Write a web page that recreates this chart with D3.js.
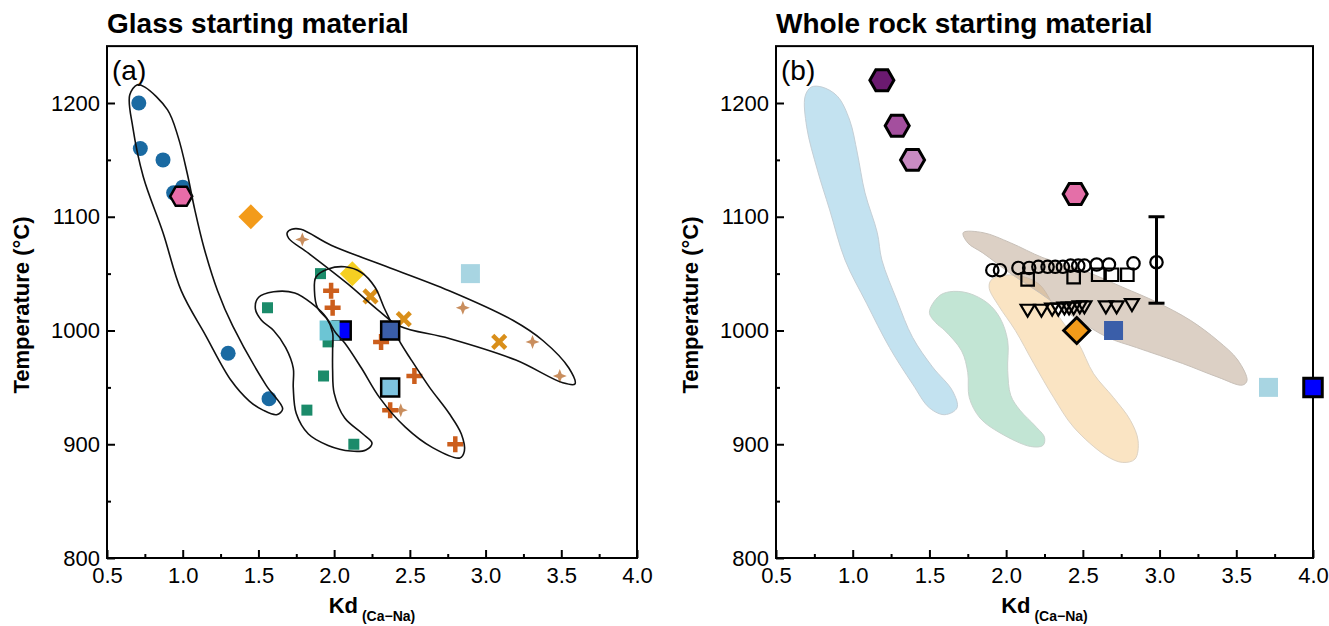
<!DOCTYPE html>
<html>
<head>
<meta charset="utf-8">
<script src="https://cdn.jsdelivr.net/npm/d3@7"></script>
<style>
  body { margin: 0; background: #fff; }
  text { font-family: "Liberation Sans", Arial, sans-serif; fill: #000; }
</style>
</head>
<body>
<svg id="chart" width="1329" height="626"></svg>
<script>
// ---- axis ticks ----
const xTicks = [0.5, 1.0, 1.5, 2.0, 2.5, 3.0, 3.5, 4.0];
const xMinor = [0.75, 1.25, 1.75, 2.25, 2.75, 3.25, 3.75];
const yTicks = [800, 900, 1000, 1100, 1200];
const yMinor = [850, 950, 1050, 1150];

// ---- panel (a): glass starting material, [Kd, T] ----
const blueCircles = [[0.71, 1200], [0.72, 1160], [0.87, 1150], [0.94, 1121], [1.00, 1126], [1.30, 980], [1.57, 940]];
const pinkHexA = [[0.99, 1118]];
const orangeDiamondA = [[1.45, 1100]];
const yellowDiamond = [[2.12, 1050]];
const greenSquares = [[1.91, 1050], [1.56, 1020], [1.96, 990], [1.93, 960], [1.82, 930], [2.13, 900]];
const orangePlus = [[1.98, 1035], [1.99, 1020], [2.31, 990], [2.53, 960], [2.37, 930], [2.80, 900]];
const goldCross = [[2.24, 1030], [2.46, 1010], [3.09, 990]];
const tanStars = [[1.79, 1080], [2.85, 1020], [3.31, 990], [3.49, 960], [2.44, 930]];
const blueSqA = [[2.05, 1000]];
const cyanSq = [[1.97, 1000]];
const darkBlueSq = [[2.37, 1000]];
const skySqOutlined = [[2.37, 950]];
const paleSqA = [[2.90, 1050]];

// envelopes drawn around the glass data
const envelope1 = [[0.70,1216],[0.75,1214],[0.90,1194],[0.97,1170],[1.03,1138],[1.08,1106],[1.14,1073],[1.23,1035],[1.33,1004],[1.55,952],[1.66,931],[1.62,926],[1.53,930],[1.44,938],[1.32,956],[1.15,996],[0.99,1035],[0.87,1086],[0.74,1135],[0.67,1179],[0.65,1207]];
const envelope2 = [[1.48,1019],[1.50,1029],[1.60,1034],[1.74,1033],[1.85,1024],[1.95,1011],[1.99,998],[1.99,985],[1.99,965],[2.00,945],[2.07,923],[2.19,909],[2.25,901],[2.21,895],[2.11,894],[1.96,899],[1.83,909],[1.75,927],[1.73,950],[1.73,967],[1.68,985],[1.60,1000],[1.52,1009]];
const envelope3 = [[1.88,1047],[1.87,1035],[1.89,1020],[1.96,1009],[2.01,998],[2.07,989],[2.18,967],[2.30,941],[2.47,915],[2.65,897],[2.83,888],[2.86,894],[2.84,909],[2.76,927],[2.63,950],[2.51,974],[2.43,991],[2.38,1006],[2.33,1020],[2.27,1038],[2.18,1051],[2.07,1056],[1.96,1054]];
const envelope4 = [[1.69,1086],[1.72,1089],[1.78,1089],[1.98,1075],[2.31,1058],[2.76,1035],[3.18,1009],[3.38,991],[3.55,967],[3.59,953],[3.51,954],[3.20,974],[2.76,993],[2.43,1004],[2.29,1018],[2.09,1041],[1.83,1068],[1.70,1081]];

// ---- panel (b): whole rock starting material ----
const hexB = [[1.19, 1220, "#6b1a70"], [1.29, 1180, "#a44f9e"], [1.39, 1150, "#c98bc2"], [2.45, 1120, "#e46fa8"]];
const orangeDiamondB = [[2.46, 1000]];
const blueSqB = [[2.70, 1000]];
const paleSqB = [[3.71, 950]];
const blueSqOutlinedB = [[4.00, 950]];
const openCircles = [[1.91,1053],[1.96,1053],[2.08,1055],[2.15,1055],[2.21,1056],[2.27,1056],[2.32,1056],[2.37,1056],[2.42,1057],[2.47,1057],[2.51,1057],[2.59,1058],[2.67,1058],[2.83,1059],[2.98,1060]];
const openSquares = [[2.14,1045],[2.44,1047],[2.60,1049],[2.69,1049],[2.79,1049]];
const openTriangles = [[2.14,1018],[2.23,1018],[2.30,1019],[2.34,1019],[2.38,1020],[2.41,1020],[2.44,1020],[2.48,1021],[2.51,1021],[2.65,1021],[2.72,1021],[2.82,1023]];
const errorBar = [2.98, 1024, 1100];

// shaded fields in (b)
const fieldBlue = [[0.73,1214],[0.80,1214],[0.90,1206],[0.98,1185],[1.03,1156],[1.08,1121],[1.16,1086],[1.19,1062],[1.29,1026],[1.39,994],[1.52,968],[1.65,947],[1.68,932],[1.60,926],[1.50,932],[1.39,953],[1.24,985],[1.09,1024],[0.95,1062],[0.85,1106],[0.77,1141],[0.70,1179],[0.69,1206]];
const fieldGreen = [[1.50,1016],[1.56,1030],[1.63,1034],[1.75,1033],[1.88,1024],[1.96,1011],[2.01,991],[2.01,965],[2.03,943],[2.09,930],[2.19,916],[2.25,906],[2.24,899],[2.16,898],[1.96,910],[1.83,923],[1.76,941],[1.75,963],[1.71,982],[1.60,1000],[1.54,1007]];
const fieldOrange = [[1.90,1044],[1.96,1048],[2.09,1048],[2.22,1040],[2.35,1011],[2.47,989],[2.57,962],[2.70,941],[2.81,921],[2.86,903],[2.84,887],[2.76,884],[2.65,890],[2.44,915],[2.31,941],[2.18,971],[2.06,1000],[1.95,1022],[1.89,1037]];
const fieldBrown = [[1.72,1086],[1.85,1086],[2.03,1077],[2.24,1064],[2.50,1053],[2.76,1038],[2.98,1025],[3.20,1009],[3.38,991],[3.51,974],[3.57,956],[3.54,952],[3.38,959],[3.15,971],[2.85,985],[2.66,994],[2.44,1012],[2.22,1033],[2.03,1050],[1.85,1068],[1.75,1077]];

// ---- layout ----
const svg = d3.select("#chart");
const plotBottom = 558, pxPerDeg = 1.1375;
const yMax = 1250;
const plotTop = plotBottom - (yMax - 800) * pxPerDeg;
const panelA = { left: 107, right: 637, title: "Glass starting material", tag: "(a)" };
const panelB = { left: 776, right: 1313, title: "Whole rock starting material", tag: "(b)" };

function hexPath(r) {
  let pts = d3.range(6).map(k => [r * Math.cos(k * Math.PI / 3), r * Math.sin(k * Math.PI / 3)]);
  return "M" + pts.join("L") + "Z";
}
function diamondPath(r) { return `M0,${-r}L${r},0L0,${r}L${-r},0Z`; }
function squarePath(s) { let h = s / 2; return `M${-h},${-h}H${h}V${h}H${-h}Z`; }
function plusPath(r) { return `M${-r},0H${r}M0,${-r}V${r}`; }
function crossPath(r) { return `M${-r},${-r}L${r},${r}M${-r},${r}L${r},${-r}`; }
function starPath(r) {
  let a = r * 0.28;
  return `M0,${-r}L${a},${-a}L${r},0L${a},${a}L0,${r}L${-a},${a}L${-r},0L${-a},${-a}Z`;
}
function triPath(r) { return `M${-r},${-r * 0.75}L${r},${-r * 0.75}L0,${r * 0.95}Z`; }

function makePanel(p) {
  let x = d3.scaleLinear().domain([0.5, 4.0]).range([p.left, p.right]);
  let y = d3.scaleLinear().domain([800, yMax]).range([plotBottom, plotTop]);
  let g = svg.append("g");

  g.append("text").attr("x", p.left).attr("y", 33)
    .style("font-size", "28px").style("font-weight", "bold").text(p.title);

  g.append("rect").attr("x", p.left).attr("y", plotTop)
    .attr("width", p.right - p.left).attr("height", plotBottom - plotTop)
    .attr("fill", "none").attr("stroke", "#000").attr("stroke-width", 2);

  // minor ticks
  g.append("g").attr("class", "axis").attr("transform", `translate(0,${plotBottom})`)
    .call(d3.axisBottom(x).tickValues(xMinor).tickSize(-4).tickFormat(""));
  g.append("g").attr("class", "axis").attr("transform", `translate(${p.left},0)`)
    .call(d3.axisLeft(y).tickValues(yMinor).tickSize(-4).tickFormat(""));
  // major ticks
  g.append("g").attr("class", "axis").attr("transform", `translate(0,${plotBottom})`)
    .call(d3.axisBottom(x).tickValues(xTicks).tickSize(-8).tickPadding(9).tickFormat(d3.format(".1f")));
  g.append("g").attr("class", "axis").attr("transform", `translate(${p.left},0)`)
    .call(d3.axisLeft(y).tickValues(yTicks).tickSize(-8).tickPadding(7).tickFormat(d3.format("d")));

  g.selectAll(".axis .domain").remove();
  g.selectAll(".axis line").attr("stroke", "#000").attr("stroke-width", 2);
  g.selectAll(".axis text").style("font-size", "22px").attr("fill", "#000")
    .style("font-family", "'Liberation Sans', Arial, sans-serif");

  g.append("text").attr("x", p.left + 5).attr("y", 80).style("font-size", "28px").text(p.tag);

  let xl = g.append("text").attr("x", (p.left + p.right) / 2).attr("y", 613)
    .attr("text-anchor", "middle").style("font-weight", "bold");
  xl.append("tspan").style("font-size", "22px").text("Kd");
  xl.append("tspan").style("font-size", "14px").attr("dy", 8).text(" (Ca\u2212Na)");

  g.append("text").attr("transform", `translate(${p.left - 78},305) rotate(-90)`)
    .attr("text-anchor", "middle").style("font-size", "22px").style("font-weight", "bold")
    .text("Temperature (\u00b0C)");

  return { g, x, y };
}

function marks(layer, x, y, data, path, style) {
  let sel = layer.selectAll(null).data(data).enter().append("path")
    .attr("transform", d => `translate(${x(d[0])},${y(d[1])})`)
    .attr("d", path);
  Object.entries(style).forEach(([k, v]) => sel.attr(k, v));
  return sel;
}

// ---- panel (a) ----
let A = makePanel(panelA);
let lineA = d3.line().x(d => A.x(d[0])).y(d => A.y(d[1])).curve(d3.curveCatmullRomClosed.alpha(0.5));
let layerA = A.g.append("g");

marks(layerA, A.x, A.y, blueCircles, d3.symbol(d3.symbolCircle, Math.PI * 7.5 * 7.5)(), { fill: "#1a6aa2" });
marks(layerA, A.x, A.y, pinkHexA, hexPath(11), { fill: "#e86ca8", stroke: "#000", "stroke-width": 2.5 });
marks(layerA, A.x, A.y, orangeDiamondA, diamondPath(12.5), { fill: "#f39b1a" });
marks(layerA, A.x, A.y, tanStars, starPath(7), { fill: "#c98e5e" });
marks(layerA, A.x, A.y, greenSquares, squarePath(11), { fill: "#1b8b6a" });
marks(layerA, A.x, A.y, orangePlus, plusPath(8), { fill: "none", stroke: "#cc5e1c", "stroke-width": 4.5 });
marks(layerA, A.x, A.y, goldCross, crossPath(6.5), { fill: "none", stroke: "#d98f1a", "stroke-width": 4.5 });
marks(layerA, A.x, A.y, yellowDiamond, diamondPath(12.5), { fill: "#f5cf22" });
marks(layerA, A.x, A.y, paleSqA, squarePath(19), { fill: "#a8d5e2" });
marks(layerA, A.x, A.y, blueSqA, squarePath(18), { fill: "#0000ff", stroke: "#000", "stroke-width": 2.5 });
marks(layerA, A.x, A.y, cyanSq, squarePath(20), { fill: "#6cc5d4" });

[envelope1, envelope2, envelope3, envelope4].forEach(env => {
  layerA.append("path").datum(env).attr("d", lineA)
    .attr("fill", "none").attr("stroke", "#111").attr("stroke-width", 1.6);
});

marks(layerA, A.x, A.y, darkBlueSq, squarePath(18), { fill: "#3a5ea9", stroke: "#000", "stroke-width": 2.5 });
marks(layerA, A.x, A.y, skySqOutlined, squarePath(18), { fill: "#7ec3df", stroke: "#000", "stroke-width": 2.5 });

// ---- panel (b) ----
let B = makePanel(panelB);
let lineB = d3.line().x(d => B.x(d[0])).y(d => B.y(d[1])).curve(d3.curveCatmullRomClosed.alpha(0.5));
let layerB = B.g.append("g");

layerB.append("path").datum(fieldBlue).attr("d", lineB).attr("fill", "#c3e2f0").attr("stroke", "#c4cfd6").attr("stroke-width", 1);
layerB.append("path").datum(fieldGreen).attr("d", lineB).attr("fill", "#c2e5d4").attr("stroke", "#c8d4ce").attr("stroke-width", 1);
layerB.append("path").datum(fieldOrange).attr("d", lineB).attr("fill", "#fae4c3").attr("stroke", "#ddd3c4").attr("stroke-width", 1);
layerB.append("path").datum(fieldBrown).attr("d", lineB).attr("fill", "#b9a28b").attr("fill-opacity", 0.5)
  .attr("stroke", "#c8c0b8").attr("stroke-width", 1);

marks(layerB, B.x, B.y, hexB, hexPath(12), { stroke: "#000", "stroke-width": 3 })
  .attr("fill", d => d[2]);

// error bar
let eb = layerB.append("g").attr("stroke", "#000").attr("stroke-width", 3);
eb.append("line").attr("x1", B.x(errorBar[0])).attr("x2", B.x(errorBar[0]))
  .attr("y1", B.y(errorBar[1])).attr("y2", B.y(errorBar[2]));
[errorBar[1], errorBar[2]].forEach(v => {
  eb.append("line").attr("x1", B.x(errorBar[0]) - 8).attr("x2", B.x(errorBar[0]) + 8)
    .attr("y1", B.y(v)).attr("y2", B.y(v));
});

marks(layerB, B.x, B.y, openCircles, d3.symbol(d3.symbolCircle, Math.PI * 6.2 * 6.2)(), { fill: "none", stroke: "#000", "stroke-width": 2.2 });
marks(layerB, B.x, B.y, openSquares, squarePath(12.5), { fill: "none", stroke: "#000", "stroke-width": 2.2 });
marks(layerB, B.x, B.y, openTriangles, triPath(7), { fill: "none", stroke: "#000", "stroke-width": 2.2 });
marks(layerB, B.x, B.y, orangeDiamondB, diamondPath(13), { fill: "#f39b1a", stroke: "#000", "stroke-width": 3 });
marks(layerB, B.x, B.y, blueSqB, squarePath(19), { fill: "#3a5ea9" });
marks(layerB, B.x, B.y, paleSqB, squarePath(19), { fill: "#a8d5e2" });
marks(layerB, B.x, B.y, blueSqOutlinedB, squarePath(18.5), { fill: "#0000ff", stroke: "#000", "stroke-width": 3 });
</script>
</body>
</html>
